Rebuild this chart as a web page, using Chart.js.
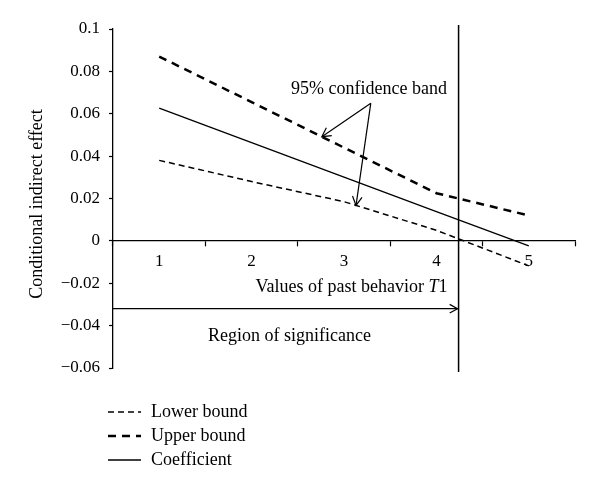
<!DOCTYPE html>
<html>
<head>
<meta charset="utf-8">
<script src="https://cdn.jsdelivr.net/npm/chart.js@4.4.1/dist/chart.umd.min.js"></script>
<style>
    html, body { margin: 0; padding: 0; background: #fff; }
    #wrap { width: 600px; height: 487px; }
</style>
</head>
<body>
<div id="wrap"><canvas id="effectChart"></canvas></div>
<script>
// Values of past behavior T1
var categories = ['1', '2', '3', '4', '5'];
var lowerBound = [0.038, 0.028, 0.0185, 0.005, -0.0118];
var upperBound = [0.087, 0.0655, 0.044, 0.0225, 0.012];
var coefficient = [0.0627, 0.0464, 0.0301, 0.0138, -0.0024];
var yTicks = [-0.06, -0.04, -0.02, 0, 0.02, 0.04, 0.06, 0.08, 0.1];
var boundary = 4.24;      // T1 where the region of significance ends
var regionArrowY = -0.032;

var serif = '"Liberation Serif", "Times New Roman", serif';

function fmtTick(v) {
    var s = Math.abs(v).toFixed(2).replace(/0+$/, '').replace(/\.$/, '');
    return v < -1e-9 ? '\u2212' + s : s;
}

function line(ctx, x1, y1, x2, y2) {
    ctx.beginPath();
    ctx.moveTo(x1, y1);
    ctx.lineTo(x2, y2);
    ctx.stroke();
}

function arrowHead(ctx, x1, y1, x2, y2, size) {
    var a = Math.atan2(y2 - y1, x2 - x1);
    ctx.beginPath();
    ctx.moveTo(x2 - size * Math.cos(a - 0.5), y2 - size * Math.sin(a - 0.5));
    ctx.lineTo(x2, y2);
    ctx.lineTo(x2 - size * Math.cos(a + 0.5), y2 - size * Math.sin(a + 0.5));
    ctx.stroke();
}

// value of a series at a fractional category index
function valueAt(series, idx) {
    var i = Math.min(Math.floor(idx), series.length - 2);
    var t = idx - i;
    return series[i] + (series[i + 1] - series[i]) * t;
}

var annotations = {
    id: 'annotations',
    afterDraw: function (chart) {
        var ctx = chart.ctx, xs = chart.scales.x, ys = chart.scales.y, area = chart.chartArea;
        ctx.save();
        ctx.strokeStyle = '#000';
        ctx.fillStyle = '#000';
        ctx.setLineDash([]);

        // Boundary of the region of significance
        var bx = xs.getPixelForValue(boundary - 1);
        ctx.lineWidth = 1.5;
        line(ctx, bx, area.top - 4, bx, area.bottom + 4);

        // Region arrow
        var ay = ys.getPixelForValue(regionArrowY);
        ctx.lineWidth = 1.2;
        line(ctx, area.left, ay, bx - 1, ay);
        arrowHead(ctx, area.left, ay, bx - 1, ay, 9);

        ctx.font = '18px ' + serif;
        ctx.textBaseline = 'middle';
        ctx.textAlign = 'left';
        ctx.fillText('Region of significance', 208, ay + 28);

        // x axis title with italic T
        var t1 = 'Values of past behavior ';
        var wT = ctx.measureText(t1).width;
        ctx.font = 'italic 18px ' + serif;
        var wI = ctx.measureText('T').width;
        ctx.font = '18px ' + serif;
        var w1 = ctx.measureText('1').width;
        var xEnd = bx - 11;
        var start = xEnd - wT - wI - w1;
        var ty = ys.getPixelForValue(-0.022);
        ctx.fillText(t1, start, ty);
        ctx.font = 'italic 18px ' + serif;
        ctx.fillText('T', start + wT, ty);
        ctx.font = '18px ' + serif;
        ctx.fillText('1', start + wT + wI, ty);

        // y axis title
        ctx.save();
        ctx.translate(37, 204);
        ctx.rotate(-Math.PI / 2);
        ctx.textAlign = 'center';
        ctx.fillText('Conditional indirect effect', 0, 0);
        ctx.restore();

        // 95% confidence band label and arrows
        ctx.textAlign = 'center';
        ctx.fillText('95% confidence band', xs.getPixelForValue(2.27), ys.getPixelForValue(0.0717));
        var sx = xs.getPixelForValue(2.29), sy = ys.getPixelForValue(0.065);
        var e1x = xs.getPixelForValue(1.76), e1y = ys.getPixelForValue(valueAt(upperBound, 1.76));
        var e2x = xs.getPixelForValue(2.13), e2y = ys.getPixelForValue(valueAt(lowerBound, 2.13));
        ctx.lineWidth = 1.2;
        line(ctx, sx, sy, e1x, e1y);
        arrowHead(ctx, sx, sy, e1x, e1y, 10);
        line(ctx, sx, sy, e2x, e2y);
        arrowHead(ctx, sx, sy, e2x, e2y, 10);

        // Legend
        ctx.textAlign = 'left';
        chart.data.datasets.forEach(function (ds, i) {
            var ly = 412 + i * 24;
            ctx.lineWidth = ds.borderWidth;
            ctx.setLineDash(ds.borderDash || []);
            line(ctx, 108, ly, 141, ly);
            ctx.setLineDash([]);
            ctx.fillText(ds.label, 151, ly);
        });
        ctx.restore();
    }
};

var chart = new Chart(document.getElementById('effectChart').getContext('2d'), {
    type: 'line',
    data: {
        labels: categories,
        datasets: [{
            label: 'Lower bound',
            data: lowerBound,
            borderColor: '#000',
            borderWidth: 1.5,
            borderDash: [6, 4]
        }, {
            label: 'Upper bound',
            data: upperBound,
            borderColor: '#000',
            borderWidth: 2.5,
            borderDash: [8, 6]
        }, {
            label: 'Coefficient',
            data: coefficient,
            borderColor: '#000',
            borderWidth: 1.3
        }]
    },
    plugins: [annotations],
    options: {
        responsive: true,
        maintainAspectRatio: false,
        animation: false,
        layout: { padding: { left: 0, top: 29, right: 25, bottom: 119 } },
        elements: { point: { radius: 0 }, line: { tension: 0 } },
        plugins: { legend: { display: false }, tooltip: { enabled: false } },
        scales: {
            x: {
                type: 'category',
                offset: true,
                position: { y: 0 },
                grid: { offset: true, drawOnChartArea: false, tickLength: 5, tickColor: '#000', tickWidth: 1.2 },
                border: { color: '#000', width: 1.3 },
                ticks: { color: '#000', padding: 5, font: { family: serif, size: 17 } }
            },
            y: {
                min: -0.06,
                max: 0.1,
                afterBuildTicks: function (s) { s.ticks = yTicks.map(function (v) { return { value: v }; }); },
                afterFit: function (s) { s.width = 113; },
                grid: { drawOnChartArea: false, tickLength: 4, tickColor: '#000', tickWidth: 1.2 },
                border: { color: '#000', width: 1.3 },
                ticks: {
                    color: '#000',
                    padding: 9,
                    font: { family: serif, size: 17 },
                    callback: function (v) { return fmtTick(v); }
                }
            }
        }
    }
});
</script>
</body>
</html>
